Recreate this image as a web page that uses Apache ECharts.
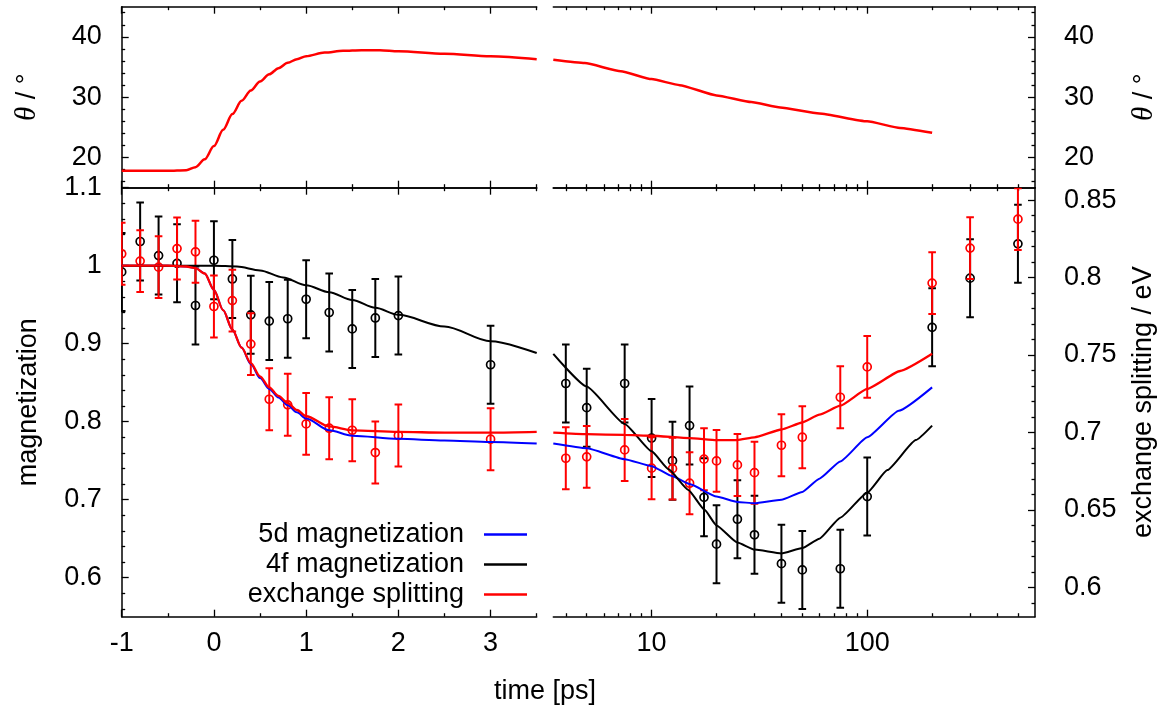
<!DOCTYPE html>
<html>
<head>
<meta charset="utf-8">
<script src="https://cdn.jsdelivr.net/npm/echarts@6.0.0/dist/echarts.min.js"></script>
<style>html,body{margin:0;padding:0;background:#fff}#c{width:1167px;height:715px}</style>
</head>
<body>
<div id="c"></div>
<script>
// ---------------- data ----------------
// top panel: tilt angle theta (degrees)
const thetaEarlyTime = [-1, -0.5, -0.3, -0.2, -0.1, 0, 0.1, 0.2, 0.3, 0.4, 0.5, 0.6, 0.7, 0.8, 0.9, 1.0, 1.2, 1.4, 1.6, 1.8, 2.0, 2.5, 3.0, 3.5];
const thetaEarly     = [17.8, 17.8, 17.9, 18.4, 19.7, 21.9, 24.6, 27.2, 29.4, 31.1, 32.6, 33.8, 34.8, 35.7, 36.3, 36.8, 37.4, 37.7, 37.8, 37.8, 37.6, 37.2, 36.8, 36.3];
const thetaLateTime  = [3.5, 4.9, 7.2, 10, 13.5, 20, 29, 39.5, 60, 100, 142, 200];
const thetaLate      = [36.2, 35.65, 34.3, 33.0, 32.0, 30.3, 29.2, 28.3, 27.3, 26.0, 24.9, 24.1];

// bottom panel curves (normalised magnetization)
const curveEarlyTime = [-1, -0.5, -0.3, -0.2, -0.1, 0, 0.1, 0.2, 0.3, 0.4, 0.5, 0.6, 0.7, 0.8, 0.9, 1.0, 1.25, 1.5, 2.0, 2.5, 3.0, 3.5];
const mag5dEarly     = [1.0, 1.0, 0.999, 0.997, 0.99, 0.969, 0.943, 0.918, 0.895, 0.874, 0.856, 0.842, 0.831, 0.821, 0.812, 0.804, 0.789, 0.782, 0.778, 0.776, 0.774, 0.772];
const esCurveEarly   = [1.0, 1.0, 0.999, 0.997, 0.99, 0.969, 0.943, 0.918, 0.895, 0.875, 0.858, 0.844, 0.833, 0.824, 0.815, 0.807, 0.794, 0.789, 0.787, 0.786, 0.786, 0.787];
const mag4fEarlyTime = [-1, -0.5, 0, 0.25, 0.5, 0.75, 1.0, 1.25, 1.5, 1.75, 2.0, 2.5, 3.0, 3.5];
const mag4fEarly     = [1.0, 1.0, 1.0, 0.999, 0.994, 0.985, 0.975, 0.966, 0.956, 0.946, 0.937, 0.922, 0.903, 0.888];

const mag5dLateTime  = [3.5, 5, 7.5, 10, 12.5, 15, 20, 25, 30, 40, 50, 60, 75, 100, 140, 200];
const mag5dLate      = [0.772, 0.766, 0.752, 0.743, 0.730, 0.720, 0.704, 0.697, 0.6955, 0.700, 0.710, 0.727, 0.749, 0.780, 0.814, 0.844];
const mag4fLateTime  = [3.5, 5, 7.5, 10, 12, 14.8, 17.6, 20, 25, 30, 40, 50, 60, 75, 100, 124, 168, 200];
const mag4fLate      = [0.887, 0.845, 0.797, 0.762, 0.739, 0.7125, 0.687, 0.667, 0.645, 0.636, 0.631, 0.638, 0.650, 0.677, 0.709, 0.738, 0.7765, 0.795];
const esCurveLateTime = [3.5, 5, 7.5, 10, 15, 20, 25, 30, 40, 50, 60, 75, 100, 142, 200];
const esCurveLate     = [0.786, 0.784, 0.783, 0.782, 0.779, 0.7765, 0.7765, 0.780, 0.790, 0.799, 0.809, 0.8205, 0.842, 0.865, 0.887];

// measured points with error bars
const pointEarlyTime   = [-1, -0.8, -0.6, -0.4, -0.2, 0, 0.2, 0.4, 0.6, 0.8, 1.0, 1.25, 1.5, 1.75, 2.0, 3.0];
const mag4fPointsEarly = [0.992, 1.031, 1.013, 1.003, 0.949, 1.007, 0.983, 0.937, 0.929, 0.932, 0.957, 0.940, 0.919, 0.933, 0.936, 0.873];
const mag4fErrEarly    = [0.05, 0.05, 0.05, 0.05, 0.05, 0.05, 0.05, 0.05, 0.05, 0.05, 0.05, 0.05, 0.05, 0.05, 0.05, 0.05];
const esPointsEarly    = [0.8153, 0.8106, 0.8067, 0.8187, 0.8166, 0.7813, 0.7851, 0.757, 0.7214, 0.7178, 0.7055, 0.7027, 0.7014, 0.687, 0.698, 0.6956];
const esErrEarly       = [0.02, 0.02, 0.02, 0.02, 0.02, 0.02, 0.02, 0.02, 0.02, 0.02, 0.02, 0.02, 0.02, 0.02, 0.02, 0.02];

const pointLateTime    = [4, 5, 7.5, 10, 12.5, 15, 17.5, 20, 25, 30, 40, 50, 75, 100, 200, 300, 500];
const mag4fPointsLate  = [0.849, 0.818, 0.849, 0.779, 0.750, 0.795, 0.703, 0.643, 0.675, 0.655, 0.618, 0.610, 0.6115, 0.704, 0.921, 0.984, 1.028];
const mag4fErrLate     = [0.05, 0.05, 0.05, 0.05, 0.05, 0.05, 0.05, 0.05, 0.05, 0.05, 0.05, 0.05, 0.05, 0.05, 0.05, 0.05, 0.05];
const esPointsLate     = [0.6833, 0.6842, 0.6887, 0.6769, 0.6766, 0.6672, 0.6827, 0.6816, 0.679, 0.674, 0.6917, 0.6969, 0.7227, 0.7423, 0.7964, 0.819, 0.8377];
const esErrLate        = [0.02, 0.02, 0.02, 0.02, 0.02, 0.02, 0.02, 0.02, 0.02, 0.02, 0.02, 0.02, 0.02, 0.02, 0.02, 0.02, 0.02];

// tick values
const xLinMajor = [-1, 0, 1, 2, 3];
const xLinMinor = [-0.5, 0.5, 1.5, 2.5, 3.5];
const xLogMajor = [10, 100];
const xLogMinor = [4, 5, 6, 7, 8, 9, 20, 30, 40, 50, 60, 70, 80, 90, 200, 300, 400, 500];
const thetaMajor = [20, 30, 40];
const thetaMinor = [16, 18, 22, 24, 26, 28, 32, 34, 36, 38, 42, 44];
const magMajor = [0.6, 0.7, 0.8, 0.9, 1, 1.1];
const magMinor = [0.56, 0.58, 0.62, 0.64, 0.66, 0.68, 0.72, 0.74, 0.76, 0.78, 0.82, 0.84, 0.86, 0.88, 0.92, 0.94, 0.96, 0.98, 1.02, 1.04, 1.06, 1.08];
const esMajor = [0.6, 0.65, 0.7, 0.75, 0.8, 0.85];
const esMinor = [0.59, 0.61, 0.62, 0.63, 0.64, 0.66, 0.67, 0.68, 0.69, 0.71, 0.72, 0.73, 0.74, 0.76, 0.77, 0.78, 0.79, 0.81, 0.82, 0.83, 0.84];

// ---------------- chart ----------------
const FONT = 'Liberation Sans';
const FS = 27;
const L = {left: 121.7, width: 415.0};
const R = {left: 553.3, width: 481.7};
const TOP = {top: 6.7, height: 181.0};
const BOT = {top: 187.7, height: 429.0};

function axis(gi, type, min, max, pos, ticks, len, showLine, labels, margin) {
  const a = {
    gridIndex: gi, type: type, min: min, max: max, position: pos,
    axisLine: {show: showLine, onZero: false, lineStyle: {color: '#000', width: 1.5}},
    axisTick: {show: true, inside: true, length: len, customValues: ticks, lineStyle: {color: '#000', width: 1.3}},
    axisLabel: labels ? {show: true, customValues: labels, margin: margin, color: '#000', fontSize: FS, fontFamily: FONT} : {show: false},
    splitLine: {show: false}, minorTick: {show: false}, minorSplitLine: {show: false},
    axisPointer: {show: false}, silent: true
  };
  if (type === 'log') a.logBase = 10;
  return a;
}

const MAJ = 7, MIN = 3.5;
const xAxes = [];
// grid 0 (top-left), 1 (top-right), 2 (bottom-left), 3 (bottom-right)
[0, 1, 2, 3].forEach(function (gi) {
  const lin = (gi === 0 || gi === 2);
  const type = lin ? 'value' : 'log';
  const mn = lin ? -1 : 3.5, mx = lin ? 3.5 : 600;
  const maj = lin ? xLinMajor : xLogMajor, mnr = lin ? xLinMinor : xLogMinor;
  const labels = (gi >= 2) ? maj : null;
  xAxes.push(axis(gi, type, mn, mx, 'bottom', maj, MAJ, true, labels, 13)); // 4*gi + 0
  xAxes.push(axis(gi, type, mn, mx, 'bottom', mnr, MIN, false, null, 0));   // 4*gi + 1
  xAxes.push(axis(gi, type, mn, mx, 'top', maj, MAJ, true, null, 0));       // 4*gi + 2
  xAxes.push(axis(gi, type, mn, mx, 'top', mnr, MIN, false, null, 0));      // 4*gi + 3
});

const nameStyleBase = {color: '#000', fontSize: FS, fontFamily: FONT};
const thetaName = {
  name: '{i|θ} / °', nameLocation: 'middle', nameRotate: 90,
  nameTextStyle: Object.assign({}, nameStyleBase, {rich: {i: {fontStyle: 'italic', fontSize: FS + 2, fontFamily: 'Liberation Serif', color: '#000'}}})
};

const yAxes = [];
// 0,1 : theta left (grid 0)
yAxes.push(Object.assign(axis(0, 'value', 15, 45, 'left', thetaMajor, MAJ, true, thetaMajor, 20), thetaName, {nameGap: 80}));
yAxes.push(axis(0, 'value', 15, 45, 'left', thetaMinor, MIN, false, null, 0));
// 2,3 : theta right (grid 1)
yAxes.push(Object.assign(axis(1, 'value', 15, 45, 'right', thetaMajor, MAJ, true, thetaMajor, 29), thetaName, {nameGap: 95}));
yAxes.push(axis(1, 'value', 15, 45, 'right', thetaMinor, MIN, false, null, 0));
// 4,5 : magnetization left (grid 2)
yAxes.push(Object.assign(axis(2, 'value', 0.55, 1.1, 'left', magMajor, MAJ, true, magMajor, 20),
  {name: 'magnetization', nameLocation: 'middle', nameRotate: 90, nameGap: 80, nameTextStyle: nameStyleBase}));
yAxes.push(axis(2, 'value', 0.55, 1.1, 'left', magMinor, MIN, false, null, 0));
// 6,7 : exchange splitting right (grid 3)
yAxes.push(Object.assign(axis(3, 'value', 0.581, 0.858, 'right', esMajor, MAJ, true, esMajor, 29),
  {name: 'exchange splitting / eV', nameLocation: 'middle', nameRotate: 90, nameGap: 95, nameTextStyle: nameStyleBase}));
yAxes.push(axis(3, 'value', 0.581, 0.858, 'right', esMinor, MIN, false, null, 0));
// 8 : magnetization scale for right bottom panel (hidden)
yAxes.push({gridIndex: 3, type: 'value', min: 0.55, max: 1.1, show: false});
// 9 : exchange splitting scale for left bottom panel (hidden)
yAxes.push({gridIndex: 2, type: 'value', min: 0.581, max: 0.858, show: false});

function pairs(ts, vs) { return ts.map(function (t, i) { return [t, vs[i]]; }); }
function triples(ts, vs, es) { return ts.map(function (t, i) { return [t, vs[i], es[i]]; }); }

function errRenderer(color) {
  return function (params, api) {
    const x = api.value(0), y = api.value(1), e = api.value(2);
    const p = api.coord([x, y]);
    const t = api.coord([x, y + e]);
    const b = api.coord([x, y - e]);
    const w = 3.8;
    const st = {stroke: color, lineWidth: 2};
    return {
      type: 'group',
      children: [
        {type: 'line', shape: {x1: p[0], y1: t[1], x2: p[0], y2: b[1]}, style: st},
        {type: 'line', shape: {x1: p[0] - w, y1: t[1], x2: p[0] + w, y2: t[1]}, style: st},
        {type: 'line', shape: {x1: p[0] - w, y1: b[1], x2: p[0] + w, y2: b[1]}, style: st},
        {type: 'circle', shape: {cx: p[0], cy: p[1], r: 4}, style: {fill: 'none', stroke: color, lineWidth: 1.7}}
      ]
    };
  };
}

function lineSeries(name, xi, yi, data, color, width, smooth) {
  return {
    type: 'line', name: name, xAxisIndex: xi, yAxisIndex: yi, data: data,
    symbol: 'none', smooth: smooth, smoothMonotone: 'x', clip: true, z: 5, silent: true,
    lineStyle: {color: color, width: width}, itemStyle: {color: color}
  };
}
function errSeries(xi, yi, data, color) {
  return {
    type: 'custom', xAxisIndex: xi, yAxisIndex: yi, data: data, renderItem: errRenderer(color),
    encode: {x: 0, y: 1}, clip: true, z: 3, silent: true
  };
}

const N5 = '5d magnetization', N4 = '4f magnetization', NE = 'exchange splitting';
const RED = '#ff0000', BLUE = '#0000ff', BLACK = '#000000';

const series = [
  lineSeries('theta early', 0, 0, pairs(thetaEarlyTime, thetaEarly), RED, 2.5, 0.3),
  lineSeries('theta late', 4, 2, pairs(thetaLateTime, thetaLate), RED, 2.5, 0.15),

  errSeries(8, 4, triples(pointEarlyTime, mag4fPointsEarly, mag4fErrEarly), BLACK),
  errSeries(8, 9, triples(pointEarlyTime, esPointsEarly, esErrEarly), RED),
  errSeries(12, 8, triples(pointLateTime, mag4fPointsLate, mag4fErrLate), BLACK),
  errSeries(12, 6, triples(pointLateTime, esPointsLate, esErrLate), RED),

  lineSeries(N5, 8, 4, pairs(curveEarlyTime, mag5dEarly), BLUE, 2, 0.3),
  lineSeries(N4, 8, 4, pairs(mag4fEarlyTime, mag4fEarly), BLACK, 2, 0.3),
  lineSeries(NE, 8, 4, pairs(curveEarlyTime, esCurveEarly), RED, 2.3, 0.3),
  lineSeries(N5, 12, 8, pairs(mag5dLateTime, mag5dLate), BLUE, 2, 0.15),
  lineSeries(N4, 12, 8, pairs(mag4fLateTime, mag4fLate), BLACK, 2, 0.15),
  lineSeries(NE, 12, 8, pairs(esCurveLateTime, esCurveLate), RED, 2.3, 0.15)
];

function legend(name, top) {
  return {
    data: [{name: name, icon: 'rect'}], orient: 'vertical', align: 'right', right: 640, top: top, padding: 0,
    itemWidth: 43, itemHeight: 2.5, selectedMode: false,
    textStyle: {color: '#000', fontSize: FS, fontFamily: FONT, padding: [0, 15, 0, 0]}
  };
}

const option = {
  animation: false,
  backgroundColor: '#ffffff',
  textStyle: {fontFamily: FONT},
  grid: [
    Object.assign({outerBoundsMode: 'none', containLabel: false}, L, TOP),
    Object.assign({outerBoundsMode: 'none', containLabel: false}, R, TOP),
    Object.assign({outerBoundsMode: 'none', containLabel: false}, L, BOT),
    Object.assign({outerBoundsMode: 'none', containLabel: false}, R, BOT)
  ],
  xAxis: xAxes,
  yAxis: yAxes,
  legend: [legend(N5, 521), legend(N4, 551), legend(NE, 581)],
  graphic: [{
    type: 'text', x: 545, y: 692, silent: true,
    style: {text: 'time [ps]', fill: '#000', font: FS + 'px "' + FONT + '"', align: 'center', verticalAlign: 'middle'}
  }],
  series: series
};

const chart = echarts.init(document.getElementById('c'), null, {renderer: 'canvas'});
chart.setOption(option);
</script>
</body>
</html>
